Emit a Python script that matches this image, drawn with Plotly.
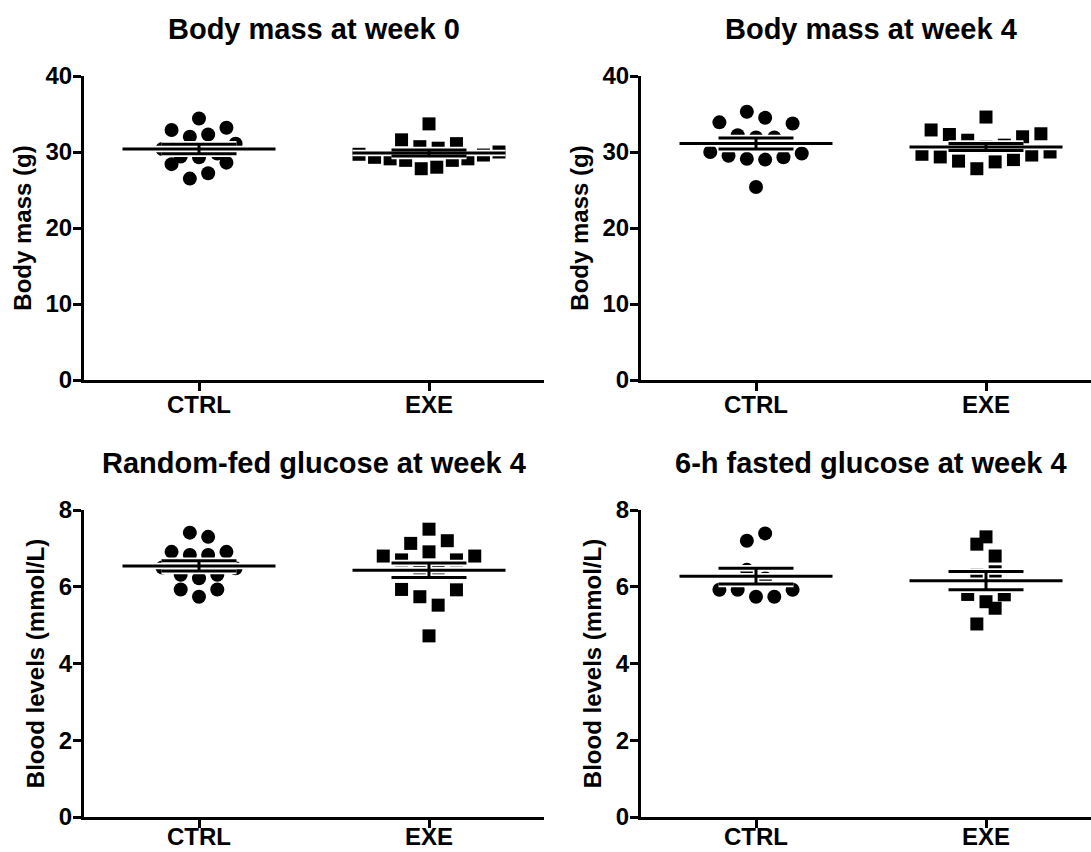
import numpy as np
import plotly.graph_objects as go

# ---------------- data ----------------
categories = ["CTRL", "EXE"]

panel_titles = ["Body mass at week 0", "Body mass at week 4",
                "Random-fed glucose at week 4", "6-h fasted glucose at week 4"]
y_titles = ["Body mass (g)", "Body mass (g)",
            "Blood levels (mmol/L)", "Blood levels (mmol/L)"]

mass_ticks = [0, 10, 20, 30, 40]
glucose_ticks = [0, 2, 4, 6, 8]

# Body mass at week 0 (g)
bm_w0_ctrl = [26.5, 27.2, 28.4, 28.6, 29.3, 29.4, 29.8, 30.4, 31.1,
              32.0, 32.3, 32.9, 33.2, 34.4]
bm_w0_exe = [27.8, 28.0, 28.9, 28.9, 29.1, 29.1, 29.3, 29.6, 29.7, 30.0,
             30.7, 30.5, 31.6, 31.1, 33.7]
# Body mass at week 4 (g)
bm_w4_ctrl = [25.4, 29.1, 29.0, 29.5, 29.3, 30.0, 29.8, 31.9, 32.2, 31.9,
              33.9, 33.75, 35.3, 34.5]
bm_w4_exe = [27.8, 28.7, 28.8, 29.0, 29.35, 29.6, 29.7, 30.0,
             30.7, 31.55, 30.9, 32.3, 32.0, 32.9, 32.4, 34.6]
# Random-fed glucose at week 4 (mmol/L)
rf_ctrl = [5.74, 5.93, 5.93, 6.22, 6.31, 6.31, 6.50, 6.48, 6.83, 6.83,
           6.91, 6.91, 7.41, 7.30]
rf_exe = [4.72, 5.74, 5.52, 5.93, 5.92, 6.44, 6.44, 6.70, 6.70, 6.80, 6.80,
          6.91, 7.13, 7.20, 7.50]
# 6-h fasted glucose at week 4 (mmol/L)
fg_ctrl = [5.74, 5.92, 5.74, 5.92, 5.92, 6.44, 6.22, 7.20, 7.39]
fg_exe = [5.03, 5.61, 5.44, 5.80, 5.79, 6.31, 6.39, 7.11, 6.80, 7.30]

panels = [
    (bm_w0_ctrl, bm_w0_exe, mass_ticks),
    (bm_w4_ctrl, bm_w4_exe, mass_ticks),
    (rf_ctrl, rf_exe, glucose_ticks),
    (fg_ctrl, fg_exe, glucose_ticks),
]

# ---------------- layout geometry (pixels) ----------------
W, H = 1091, 852
PX_PER_CAT = 230.0
x_px = [(84, 544), (641, 1091), (84, 544), (641, 1091)]
y_px = [(76, 380), (76, 380), (510, 817), (510, 817)]
x_label_shift = [-7, -7, -12, -12]

FONT = "Liberation Sans, Arial, Helvetica, sans-serif"
STEP = 18.3 / PX_PER_CAT          # horizontal spacing of dots in a row
MAX_SPAN = 140.0 / PX_PER_CAT     # widest row (centre to centre)
MEAN_HALF = 76.5 / PX_PER_CAT
CAP_HALF = 37.5 / PX_PER_CAT


def column_offsets(values, bin_h):
    """Prism-like scatter: group values into rows, spread each row."""
    order = sorted(range(len(values)), key=lambda i: (values[i], i))
    bins, cur, start = [], [], None
    for i in order:
        if start is None or values[i] > start + bin_h + 1e-9:
            if cur:
                bins.append(cur)
            cur, start = [i], values[i]
        else:
            cur.append(i)
    if cur:
        bins.append(cur)
    offs = [0.0] * len(values)
    for b in bins:
        b = sorted(b)
        n = len(b)
        s = STEP if n < 2 else min(STEP, MAX_SPAN / (n - 1))
        if n % 2:
            slots = [0] + [sg * k for k in range(1, n) for sg in (-1, 1)]
        else:
            slots = [sg * (k - 0.5) for k in range(1, n + 1) for sg in (-1, 1)]
        for j, i in enumerate(b):
            offs[i] = slots[j] * s
    return offs


fig = go.Figure()

for p, (ctrl, exe, ticks) in enumerate(panels):
    ax = "" if p == 0 else str(p + 1)
    xref, yref = "x" + ax, "y" + ax
    ymax = ticks[-1]
    bin_h = 0.0572 * ymax
    for ci, vals in enumerate([ctrl, exe]):
        offs = column_offsets(vals, bin_h)
        fig.add_trace(go.Scatter(
            x=[ci + o for o in offs], y=vals, mode="markers",
            marker=dict(symbol="circle" if ci == 0 else "square",
                        size=14 if ci == 0 else 13, color="black",
                        line=dict(width=0)),
            xaxis=xref, yaxis=yref, showlegend=False, hoverinfo="y"))
        arr = np.array(vals, dtype=float)
        m = float(arr.mean())
        sem = float(arr.std(ddof=1) / np.sqrt(len(arr)))
        lx = [ci - MEAN_HALF, ci + MEAN_HALF, None,
              ci - CAP_HALF, ci + CAP_HALF, None,
              ci - CAP_HALF, ci + CAP_HALF, None,
              ci, ci]
        ly = [m, m, None, m + sem, m + sem, None, m - sem, m - sem, None,
              m - sem, m + sem]
        for col, wd in (("white", 6.5), ("black", 3)):
            fig.add_trace(go.Scatter(
                x=lx, y=ly, mode="lines", line=dict(color=col, width=wd),
                xaxis=xref, yaxis=yref, showlegend=False, hoverinfo="skip"))

    x0, x1 = x_px[p]
    y0, y1 = y_px[p]
    xr_right = -0.5 + (x1 - x0) / PX_PER_CAT
    axis_common = dict(showline=True, linecolor="black", linewidth=3,
                       ticks="outside", ticklen=8, tickwidth=3,
                       tickcolor="black", showgrid=False, zeroline=False,
                       automargin=False,
                       tickfont=dict(family=FONT, size=24, color="black",
                                     weight="bold"))
    fig.update_layout(**{
        "xaxis" + ax: dict(domain=[x0 / W, x1 / W], range=[-0.5, xr_right],
                           anchor=yref, tickvals=[0, 1], ticktext=categories,
                           ticklabelstandoff=x_label_shift[p],
                           fixedrange=True, **axis_common),
        "yaxis" + ax: dict(domain=[1 - y1 / H, 1 - y0 / H], range=[0, ymax],
                           anchor=xref, tickvals=ticks,
                           ticklabelstandoff=-4,
                           title=dict(text=y_titles[p], standoff=8,
                                      font=dict(family=FONT, size=24,
                                                color="black",
                                                weight="bold")),
                           **axis_common),
    })
    title_y = 29 if p < 2 else 463
    x_mid = (x0 + (x0 + 2 * PX_PER_CAT)) / 2
    fig.add_annotation(text=panel_titles[p], xref="paper", yref="paper",
                       x=x_mid / W, y=1 - title_y / H, xanchor="center",
                       yanchor="middle", showarrow=False,
                       font=dict(family=FONT, size=29, color="black",
                                 weight="bold"))

fig.update_layout(width=W, height=H,
                  margin=dict(l=0, r=0, t=0, b=0, pad=0, autoexpand=False),
                  paper_bgcolor="white", plot_bgcolor="white",
                  showlegend=False)

fig.write_html("out.html", config={"displayModeBar": False})
